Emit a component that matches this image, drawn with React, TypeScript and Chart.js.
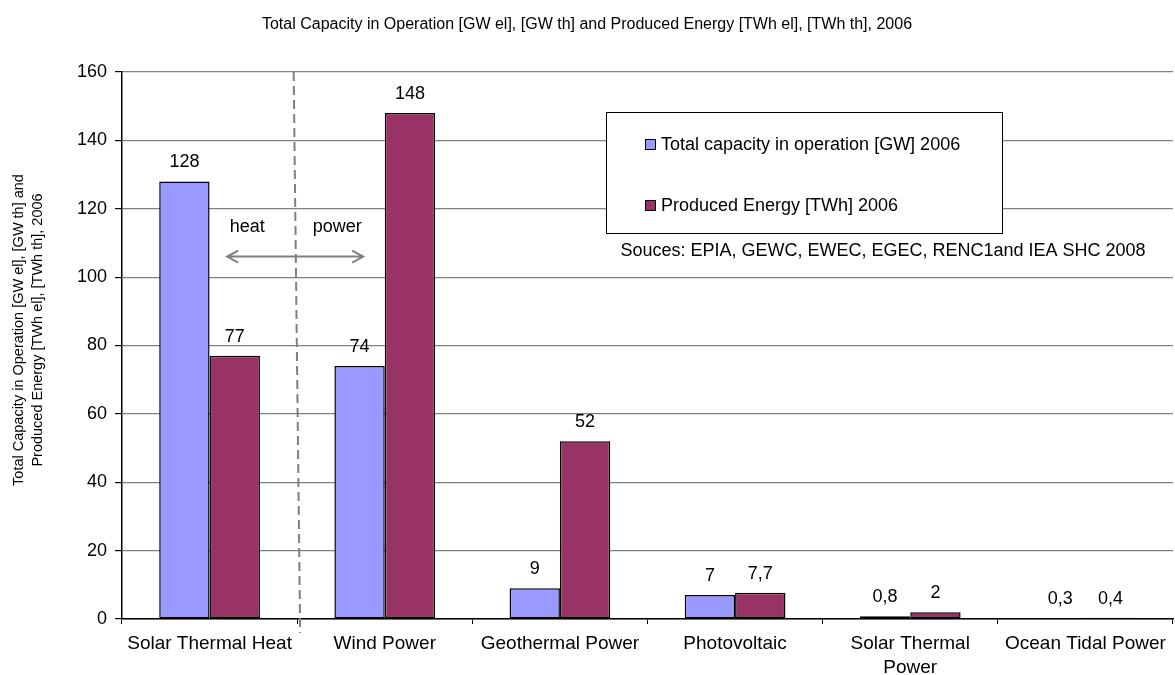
import React, { useEffect, useRef } from "react";
import { Chart, registerables } from "chart.js";

Chart.register(...registerables);

const categories: (string | string[])[] = [
  "Solar Thermal Heat",
  "Wind Power",
  "Geothermal Power",
  "Photovoltaic",
  ["Solar Thermal", "Power"],
  "Ocean Tidal Power",
];
const capacity = [128, 74, 9, 7, 0.8, 0.3];
const energy = [77, 148, 52, 7.7, 2, 0.4];
const seriesNames = ["Total capacity in operation [GW] 2006", "Produced Energy [TWh] 2006"];
const colors = ["#9999FF", "#993366"];
const yTicks = [0, 20, 40, 60, 80, 100, 120, 140, 160];
const chartTitle = "Total Capacity in Operation [GW el], [GW th] and Produced Energy [TWh el], [TWh th], 2006";
const yTitle = ["Total Capacity in Operation [GW el], [GW th] and", "Produced Energy [TWh el], [TWh th], 2006"];
const sourceText = "Souces: EPIA, GEWC, EWEC, EGEC, RENC1and IEA SHC 2008";

const FONT = "'Liberation Sans', Arial, sans-serif";
const fmt = (v: number) => String(v).replace(".", ",");

const overlay = {
  id: "overlay",
  afterDatasetsDraw(chart: any) {
    const ctx = chart.ctx;
    const xs = chart.scales.x;
    const ys = chart.scales.y;
    const area = chart.chartArea;
    ctx.save();
    // data labels
    ctx.font = `18px ${FONT}`;
    ctx.fillStyle = "#000";
    ctx.textAlign = "center";
    ctx.textBaseline = "middle";
    chart.data.datasets.forEach((ds: any, di: number) => {
      const meta = chart.getDatasetMeta(di);
      meta.data.forEach((bar: any, i: number) => {
        ctx.fillText(fmt(ds.data[i]), bar.x, bar.y - 19);
      });
    });
    // title
    ctx.font = `16px ${FONT}`;
    ctx.fillText(chartTitle, 587, 25);
    // y title
    ctx.save();
    ctx.translate(0, 330);
    ctx.rotate(-Math.PI / 2);
    ctx.font = `14.5px ${FONT}`;
    ctx.fillText(yTitle[0], 0, 19);
    ctx.fillText(yTitle[1], 0, 38);
    ctx.restore();
    // dashed separator
    const sepX = (xs.getPixelForValue(0) + xs.getPixelForValue(1)) / 2;
    ctx.strokeStyle = "#808080";
    ctx.lineWidth = 2;
    ctx.setLineDash([9, 5]);
    ctx.beginPath();
    ctx.moveTo(sepX - 3.5, area.top);
    ctx.lineTo(sepX + 3, area.bottom + 14);
    ctx.stroke();
    ctx.setLineDash([]);
    // arrow
    const ay = ys.getPixelForValue(106);
    const ax1 = sepX - 70;
    const ax2 = sepX + 66;
    ctx.beginPath();
    ctx.moveTo(ax1, ay);
    ctx.lineTo(ax2, ay);
    ctx.moveTo(ax1 + 11, ay - 6);
    ctx.lineTo(ax1, ay);
    ctx.lineTo(ax1 + 11, ay + 6);
    ctx.moveTo(ax2 - 11, ay - 6);
    ctx.lineTo(ax2, ay);
    ctx.lineTo(ax2 - 11, ay + 6);
    ctx.stroke();
    ctx.fillStyle = "#000";
    ctx.font = `18px ${FONT}`;
    ctx.fillText("heat", sepX - 50, ay - 30);
    ctx.fillText("power", sepX + 40, ay - 30);
    // legend box
    const lx = 606, ly = 112, lw = 396, lh = 121;
    ctx.fillStyle = "#fff";
    ctx.fillRect(lx, ly, lw, lh);
    ctx.strokeStyle = "#000";
    ctx.lineWidth = 1;
    ctx.strokeRect(lx + 0.5, ly + 0.5, lw, lh);
    ctx.font = `18px ${FONT}`;
    ctx.textAlign = "left";
    const rows = [144, 205];
    seriesNames.forEach((n, i) => {
      ctx.fillStyle = colors[i];
      ctx.fillRect(645, rows[i] - 5, 10, 10);
      ctx.strokeStyle = "#000";
      ctx.strokeRect(645.5, rows[i] - 4.5, 10, 10);
      ctx.fillStyle = "#000";
      ctx.fillText(n, 661, rows[i] + 1);
    });
    ctx.textAlign = "center";
    ctx.fillText(sourceText, 883, 251);
    ctx.restore();
  },
};

export default function App() {
  const ref = useRef<HTMLCanvasElement | null>(null);
  useEffect(() => {
    if (!ref.current) return;
    const mk = (label: string, data: number[], color: string) => ({
      label,
      data,
      backgroundColor: color,
      borderColor: "#000",
      borderWidth: 1.5,
      borderSkipped: false,
      categoryPercentage: 0.575,
      barPercentage: 1,
    });
    const chart = new Chart(ref.current, {
      type: "bar",
      data: {
        labels: categories as any,
        datasets: [mk(seriesNames[0], capacity, colors[0]), mk(seriesNames[1], energy, colors[1])],
      },
      plugins: [overlay],
      options: {
        animation: false,
        responsive: false,
        layout: { padding: { top: 72, right: 2, left: 0, bottom: 0 } },
        plugins: { legend: { display: false }, tooltip: { enabled: false }, title: { display: false } },
        scales: {
          x: {
            grid: { offset: true, drawOnChartArea: false, tickLength: 5, color: "#000" },
            border: { color: "#000", width: 1.5 },
            ticks: {
              color: "#000",
              font: { family: FONT, size: 19, lineHeight: 1.25 },
              padding: 8,
              maxRotation: 0,
              autoSkip: false,
            },
            afterFit: (s: any) => {
              s.height = 56;
            },
          },
          y: {
            min: 0,
            max: 160,
            afterBuildTicks: (s: any) => {
              s.ticks = yTicks.map((v) => ({ value: v }));
            },
            grid: { color: "#808080", lineWidth: 1.2, tickLength: 7, tickColor: "#000" },
            border: { color: "#000", width: 1.5 },
            ticks: { color: "#000", font: { family: FONT, size: 18 }, padding: 8 },
            afterFit: (s: any) => {
              s.width = 122;
            },
          },
        },
      } as any,
    });
    return () => chart.destroy();
  }, []);
  return (
    <div style={{ position: "absolute", left: 0, top: 0, width: 1175, height: 675, background: "#fff" }}>
      <canvas ref={ref} width={1175} height={675} />
    </div>
  );
}
